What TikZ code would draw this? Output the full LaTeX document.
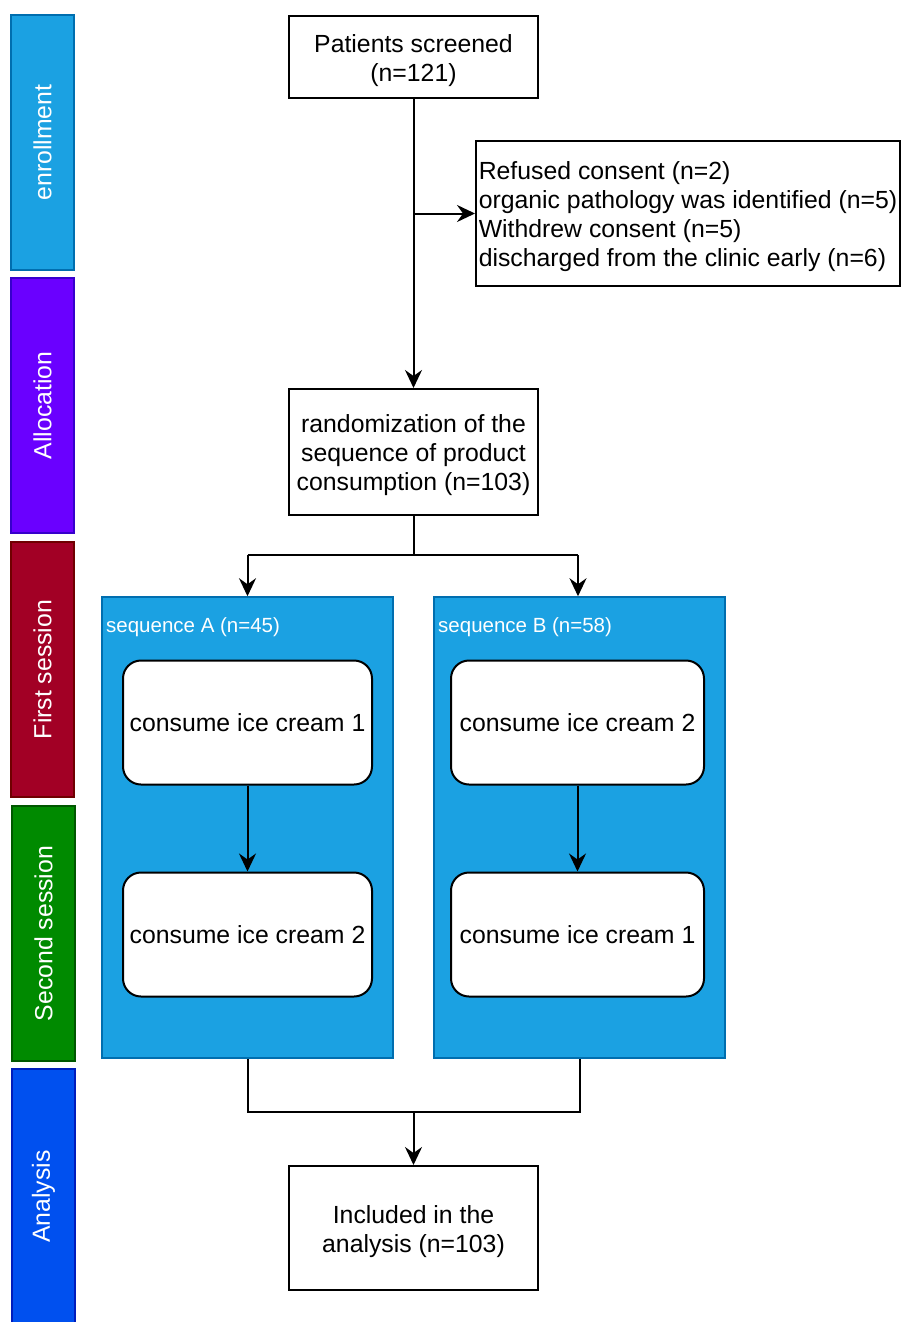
\documentclass[tikz,border=0pt]{standalone}
\usepackage{fontspec}
\setmainfont{Liberation Sans}
\usetikzlibrary{arrows.meta}
\definecolor{enrF}{HTML}{1BA1E2}
\definecolor{enrD}{HTML}{006EAF}
\definecolor{allF}{HTML}{6A00FF}
\definecolor{allD}{HTML}{3700CC}
\definecolor{firF}{HTML}{A20025}
\definecolor{firD}{HTML}{6F0000}
\definecolor{secF}{HTML}{008A00}
\definecolor{secD}{HTML}{005700}
\definecolor{anaF}{HTML}{0050EF}
\definecolor{anaD}{HTML}{001DBC}
\def\toppad{\rule{0pt}{24.5pt}}
\begin{document}
\begin{tikzpicture}[x=1pt,y=-1pt,
  mainfont/.style={font=\fontsize{24.8}{29}\selectfont},
  lane/.style={rotate=90, minimum width=255pt, minimum height=63pt, line width=1.5pt, text=white, inner sep=0pt, mainfont},
  plainbox/.style={draw, line width=2pt, fill=white, align=center, inner sep=2pt, mainfont, minimum width=249pt},
  seqbox/.style={draw=enrD, fill=enrF, line width=1.5pt, minimum width=291pt, minimum height=461pt, inner sep=0pt},
  seqlabel/.style={text=white, anchor=west, inner sep=0pt, font=\fontsize{20.5}{24}\selectfont},
  icebox/.style={draw, fill=white, line width=2pt, rounded corners=18pt, minimum height=124pt, inner sep=0pt, mainfont},
  conn/.style={line width=2pt},
  arr/.style={line width=2pt, -{Stealth[length=18pt, width=17pt, inset=6pt]}}
]
\useasboundingbox (0,0) rectangle (900,1322);

% lanes
\node[lane, fill=enrF, draw=enrD] (lenr) at (42.5,142.5) {enrollment};
\node[lane, fill=allF, draw=allD] (lall) at (42.5,405.5) {Allocation};
\node[lane, fill=firF, draw=firD] (lfir) at (42.5,669.5) {First session};
\node[lane, fill=secF, draw=secD] (lsec) at (43.5,933.5) {Second session};
\node[lane, fill=anaF, draw=anaD] (lana) at (43.5,1196.5) {Analysis};

% main boxes
\node[plainbox, minimum height=82pt] (screen) at (413.5,57) {\toppad Patients screened\\(n=121)};
\node[draw, line width=2pt, fill=white, minimum width=424pt, minimum height=145pt, inner xsep=1pt, align=left, mainfont] (excl) at (688,213.5)
  {\toppad Refused consent (n=2)\\organic pathology was identified (n=5)\\Withdrew consent (n=5)\\discharged from the clinic early (n=6)};
\node[plainbox, minimum height=126pt] (rand) at (413.5,452) {\toppad randomization of the\\sequence of product\\consumption (n=103)};

% sequence containers
\node[seqbox] (seqA) at (247.5,827.5) {};
\node[seqbox] (seqB) at (579.5,827.5) {};
\node[seqlabel] (labA) at (106,627) {sequence A (n=45)};
\node[seqlabel] (labB) at (438,627) {sequence B (n=58)};

\node[icebox, minimum width=249pt] (a1) at (247.5,722.5) {consume ice cream 1};
\node[icebox, minimum width=249pt] (a2) at (247.5,934.5) {consume ice cream 2};
\node[icebox, minimum width=253pt] (b1) at (577.5,722.5) {consume ice cream 2};
\node[icebox, minimum width=253pt] (b2) at (577.5,934.5) {consume ice cream 1};

\node[plainbox, minimum height=124pt] (incl) at (413.5,1228) {\toppad Included in the\\analysis (n=103)};

% connectors
\draw[arr] (screen.south) -- (rand.north);
\coordinate (br) at (screen.south |- excl.west);
\draw[arr] (br) -- (excl.west);

\draw[conn] (rand.south) -- (413.5,555) coordinate (sp);
\coordinate (sa) at (247.5,555);
\coordinate (sb) at (578,555);
\draw[conn] (sa) -- (sb);
\draw[arr] (sa) -- (a1.north |- seqA.north);
\draw[arr] (sb) -- (sb |- seqB.north);

\draw[arr] (a1.south) -- (a2.north);
\draw[arr] (b1.south) -- (b2.north);

\coordinate (ma) at (247.5,1112);
\coordinate (mb) at (580,1112);
\draw[conn] (seqA.south -| ma) -- (ma) -- (mb) -- (seqB.south -| mb);
\draw[arr] (incl.north |- ma) -- (incl.north);
\end{tikzpicture}
\end{document}
